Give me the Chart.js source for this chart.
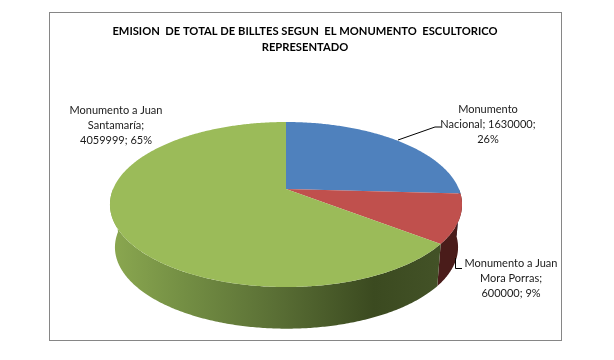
<!DOCTYPE html>
<html lang="es">
<head>
    <meta charset="UTF-8">
    <title>Emision de billetes</title>
    <script src="https://cdn.jsdelivr.net/npm/chart.js"></script>
    <style>
        html, body { margin: 0; padding: 0; background: #fff; }
        canvas { display: block; }
    </style>
</head>
<body>
    <canvas id="pie" width="614" height="360"></canvas>

    <script>
    // Data
    const categories = ['Monumento Nacional', 'Monumento a Juan Mora Porras', 'Monumento a Juan Santamaría'];
    const values = [1630000, 600000, 4059999];
    const percents = [26, 9, 65];
    const titleLines = ['EMISION  DE TOTAL DE BILLTES SEGUN  EL MONUMENTO  ESCULTORICO', 'REPRESENTADO'];

    const topColors = ['#4f81bd', '#c0504d', '#9bbb59'];
    const sideStops = [
        [[0, '#2c4d75'], [1, '#2c4d75']],
        [[0, '#4f1f1d'], [1, '#4a1c1a']],
        [[0, '#8ba850'], [0.22, '#748f44'], [0.5, '#5a6f35'], [0.8, '#3b4a20'], [1, '#435227']]
    ];

    // Perspective disc: angle from the arc element -> screen point
    const tilt = 0.188;
    function project(angle, disc) {
        const u = Math.cos(angle), v = Math.sin(angle), d = 1 - tilt * v;
        return [disc.x + disc.a * u / d, disc.y + disc.b * v / d];
    }
    const topDisc = { x: 286, y: 189, a: 172.9, b: 79.6 };
    const lowDisc = { x: 286.5, y: 232, a: 168.5, b: 78.5 };

    function tracePath(ctx, from, to, disc, first) {
        const n = Math.max(2, Math.ceil(Math.abs(to - from) / 0.01));
        for (let i = 0; i <= n; i++) {
            const p = project(from + (to - from) * i / n, disc);
            if (i === 0 && first) ctx.moveTo(p[0], p[1]); else ctx.lineTo(p[0], p[1]);
        }
    }

    const pie3d = {
        id: 'pie3d',
        // the elements keep their angles, only the painting is replaced
        beforeDatasetsDraw(chart) {
            const ctx = chart.ctx;
            const arcs = chart.getDatasetMeta(0).data;
            ctx.save();

            // rim, only the part of each slice facing the viewer
            arcs.forEach((arc, i) => {
                const from = Math.max(arc.startAngle, 0), to = Math.min(arc.endAngle, Math.PI);
                if (to <= from) return;
                const grad = ctx.createLinearGradient(110, 0, 440, 0);
                sideStops[i].forEach(s => grad.addColorStop(s[0], s[1]));
                ctx.beginPath();
                tracePath(ctx, from, to, topDisc, true);
                tracePath(ctx, to, from, lowDisc, false);
                ctx.closePath();
                ctx.fillStyle = grad;
                ctx.fill();
            });

            // top face
            arcs.forEach((arc, i) => {
                ctx.beginPath();
                ctx.moveTo(topDisc.x, topDisc.y);
                tracePath(ctx, arc.startAngle, arc.endAngle, topDisc, false);
                ctx.closePath();
                ctx.fillStyle = topColors[i];
                ctx.fill();
            });
            ctx.restore();
            return false;
        },
        afterDraw(chart) {
            const ctx = chart.ctx;
            ctx.save();
            ctx.strokeStyle = '#868686';
            ctx.lineWidth = 1;
            ctx.strokeRect(49.5, 12.5, 512, 328);

            ctx.strokeStyle = '#000';
            ctx.beginPath();
            ctx.moveTo(398, 140); ctx.lineTo(435, 127); ctx.lineTo(441, 127);
            ctx.moveTo(455.5, 258); ctx.lineTo(455.5, 268.5); ctx.lineTo(462, 268.5);
            ctx.stroke();

            ctx.fillStyle = '#1a1a1a';
            ctx.font = '11px Lato';
            ctx.textAlign = 'center';
            ctx.textBaseline = 'middle';
            const labels = [
                { x: 488, y: 109, lines: ['Monumento', 'Nacional; ' + values[0] + ';', percents[0] + '%'] },
                { x: 511, y: 263, lines: ['Monumento a Juan', 'Mora Porras;', values[1] + '; ' + percents[1] + '%'] },
                { x: 116, y: 110, lines: ['Monumento a Juan', 'Santamaría;', values[2] + '; ' + percents[2] + '%'] }
            ];
            labels.forEach(l => l.lines.forEach((t, k) => ctx.fillText(t, l.x, l.y + k * 15)));
            ctx.restore();
        }
    };

    new Chart(document.getElementById('pie'), {
        type: 'pie',
        data: {
            labels: categories,
            datasets: [{ data: values, backgroundColor: topColors, borderWidth: 0 }]
        },
        options: {
            responsive: false,
            animation: false,
            layout: { padding: { top: 13, bottom: 20, left: 58, right: 62 } },
            plugins: {
                legend: { display: false },
                tooltip: { enabled: false },
                title: {
                    display: true,
                    text: titleLines,
                    color: '#000',
                    font: { family: 'Lato', size: 11.2, weight: 'bold', lineHeight: 1.43 }
                }
            }
        },
        plugins: [pie3d]
    });
    </script>
</body>
</html>
